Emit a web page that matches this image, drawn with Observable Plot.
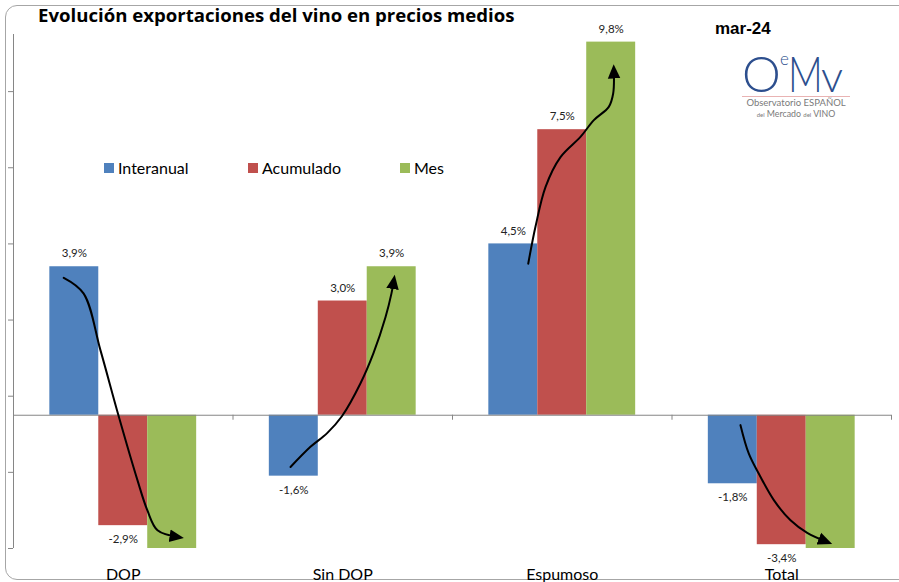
<!DOCTYPE html>
<html><head><meta charset="utf-8">
<script src="https://cdn.jsdelivr.net/npm/d3@7"></script>
<script src="https://cdn.jsdelivr.net/npm/@observablehq/plot@0.6"></script>
<style>
body{margin:0;background:#fff;}
#wrap{position:relative;width:899px;height:582px;overflow:hidden;font-family:Lato,"Open Sans",sans-serif;color:#000;}
#border{position:absolute;left:5px;top:5px;width:920px;height:573px;border:1px solid #a6a6a6;border-radius:12px;}
#chart{position:absolute;left:0;top:0;}
#title{position:absolute;left:38px;top:2px;font-family:"Open Sans",Lato,sans-serif;font-weight:700;font-size:18.6px;line-height:26px;white-space:nowrap;}
#date{position:absolute;left:715px;top:19px;font-family:"Liberation Sans",Arial,sans-serif;font-weight:700;font-size:17px;}
#legend{position:absolute;top:158px;left:0;font-size:16px;}
#legend .item{position:absolute;white-space:nowrap;display:flex;align-items:center;}
#legend .sw{width:10px;height:10px;margin-right:4px;}
#logo{position:absolute;left:742px;top:50px;width:108px;color:#2d4f8e;}
#logo .mark{position:relative;height:46px;font-weight:300;}
#logo .mark span{position:absolute;display:block;}
#logo .o{left:0;top:5px;font-size:49px;line-height:36px;height:38px;}
#logo .e{left:38px;top:3px;font-size:17px;line-height:12px;height:13px;}
#logo .m{left:46px;top:5px;font-size:49px;line-height:36px;height:38px;transform:scaleX(0.78);transform-origin:left;}
#logo .v{left:79px;top:7px;font-size:44px;line-height:36px;height:38px;}
#logo .line{height:1px;background:#e9b3b3;}
#logo .t1{font-size:9.5px;line-height:11.5px;color:#7a7a7a;text-align:center;white-space:nowrap;}
#logo .t2{font-size:8.8px;line-height:10.8px;color:#7a7a7a;text-align:center;white-space:nowrap;}
#logo small{font-size:6px;}
</style></head>
<body>
<div id="wrap">
  <div id="border"></div>
  <div id="chart"></div>
  <div id="title">Evolución exportaciones del vino en precios medios</div>
  <div id="date">mar-24</div>
  <div id="legend"></div>
  <div id="logo">
    <div class="mark"><span class="o">O</span><span class="e">e</span><span class="m">M</span><span class="v">v</span></div>
    <div class="line"></div>
    <div class="t1">Observatorio ESPAÑOL</div>
    <div class="t2"><small>del</small> Mercado <small>del</small> VINO</div>
  </div>
</div>
<script>
// ---- data ----
const categories = ["DOP", "Sin DOP", "Espumoso", "Total"];
const series = ["Interanual", "Acumulado", "Mes"];
const interanual = [3.9, -1.6, 4.5, -1.8];
const acumulado = [-2.9, 3.0, 7.5, -3.4];
const mes = [-3.6, 3.9, 9.8, -3.6]; // DOP and Total bars run past the axis floor (no label shown)
const colors = ["#4F81BD", "#C0504D", "#9BBB59"];
const yDomain = [-3.5, 10];
const yTicks = [-3.5, -1.5, 0.5, 2.5, 4.5, 6.5, 8.5];
// annotation arrows: [position within category group (0..1), value]
const arrowDOP = [[0.229,3.61],[0.319,3.20],[0.396,1.71],[0.478,0],[0.565,-1.71],[0.610,-2.50],[0.656,-3.02],[0.752,-3.20]];
const arrowSinDOP = [[0.262,-1.36],[0.353,-0.83],[0.429,-0.47],[0.497,-0.02],[0.581,0.84],[0.640,1.63],[0.695,2.58],[0.722,3.20],[0.733,3.55]];
const arrowEspumoso = [[0.345,3.98],[0.378,4.95],[0.424,6.00],[0.492,6.78],[0.583,7.31],[0.644,7.75],[0.712,8.10],[0.732,8.45],[0.735,9.08]];
const arrowTotal = [[0.312,-0.26],[0.350,-1.01],[0.395,-1.53],[0.464,-2.23],[0.540,-2.76],[0.616,-3.09],[0.707,-3.33]];

// ---- build tables ----
const valuesBySeries = [interanual, acumulado, mes];
const barW = 0.223;
const off = (1 - 3 * barW) / 2;
const rows = [];
categories.forEach((c, i) => {
  series.forEach((s, j) => {
    const x1 = i + off + j * barW;
    rows.push({cat: c, series: s, value: valuesBySeries[j][i], x1, x2: x1 + barW, xm: x1 + barW / 2});
  });
});
const arrows = [arrowDOP, arrowSinDOP, arrowEspumoso, arrowTotal];
const arrowRows = arrows.flatMap((pts, i) => pts.map(([f, v]) => ({id: i, x: i + f, y: v})));
const fmt = d => d.value.toFixed(1).replace(".", ",") + "%";
const visible = rows.filter(d => d.value >= yDomain[0]);

const grey = "#868686";
const chart = Plot.plot({
  width: 899, height: 582,
  marginTop: 34, marginBottom: 34, marginLeft: 13, marginRight: 8,
  x: {domain: [0, 4], axis: null},
  y: {domain: yDomain, axis: null},
  color: {domain: series, range: colors},
  style: {fontFamily: "Lato, 'Open Sans', sans-serif", background: "transparent", color: "#000"},
  marks: [
    Plot.rect(rows, {x1: "x1", x2: "x2", y1: () => 0, y2: "value", fill: "series", clip: true}),
    Plot.ruleY([0], {stroke: grey}),
    Plot.ruleX([1, 2, 3, 4], {y1: () => 0, y2: () => 0, insetBottom: -5, stroke: grey}),
    Plot.ruleX([0], {stroke: grey}),
    Plot.axisY({ticks: yTicks, tickFormat: () => "", tickSize: 5, stroke: grey, label: null}),
    Plot.axisX({ticks: [0.5, 1.5, 2.5, 3.5], tickFormat: d => categories[Math.floor(d)], tickSize: 0, tickPadding: 20, fontSize: 16, label: null}),
    Plot.text(visible.filter(d => d.value >= 0), {x: "xm", y: "value", text: fmt, dy: -13, fontSize: 11.5, fill: "#222"}),
    Plot.text(visible.filter(d => d.value < 0), {x: "xm", y: "value", text: fmt, dy: 14, fontSize: 11.5, fill: "#222"}),
    Plot.line(arrowRows, {x: "x", y: "y", z: "id", curve: "catmull-rom", stroke: "#000", strokeWidth: 2, markerEnd: "arrow"})
  ]
});
chart.querySelectorAll("marker").forEach(m => {
  m.setAttribute("markerWidth", "9");
  m.setAttribute("markerHeight", "9");
  m.setAttribute("fill", "#000");
  m.setAttribute("stroke", "none");
  m.querySelectorAll("path").forEach(p => { p.setAttribute("d", "M-5,-3.5L3,0L-5,3.5Z"); p.setAttribute("fill", "#000"); p.setAttribute("stroke", "none"); });
});
document.getElementById("chart").appendChild(chart);

// legend
const legendX = [104, 248, 400];
const legend = document.getElementById("legend");
series.forEach((s, j) => {
  const it = document.createElement("div");
  it.className = "item";
  it.style.left = legendX[j] + "px";
  it.innerHTML = `<span class="sw" style="background:${colors[j]}"></span><span>${s}</span>`;
  legend.appendChild(it);
});
</script>
</body></html>
